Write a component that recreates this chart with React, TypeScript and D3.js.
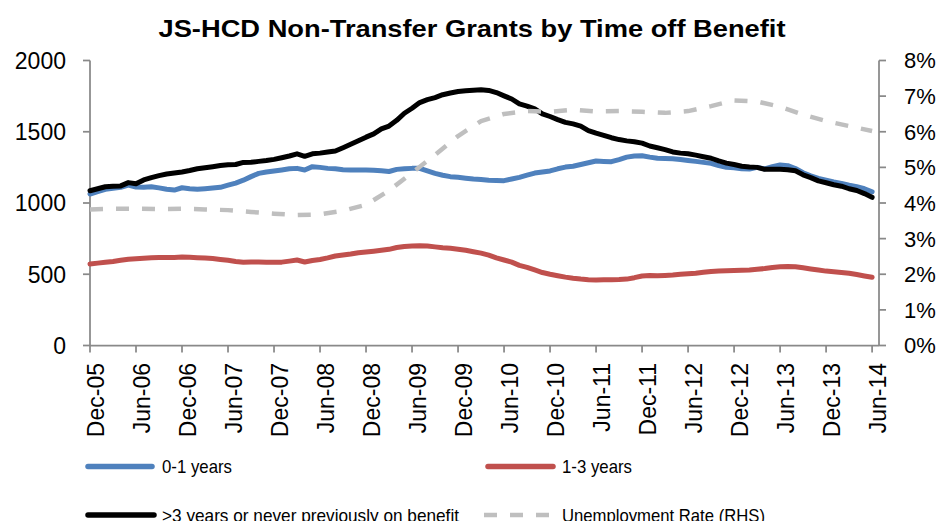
import React from "react";
import * as d3 from "d3";

// Monthly series, Dec-05 (index 0) to Jun-14 (index 102)
const zeroToOne: number[] = [
  1063, 1080, 1096, 1103, 1110, 1126, 1112, 1110, 1114, 1106, 1096, 1091,
  1107, 1100, 1096, 1100, 1105, 1110, 1125, 1140, 1160, 1185, 1208, 1218,
  1225, 1232, 1240, 1243, 1232, 1255, 1250, 1243, 1240, 1234, 1232, 1232,
  1232, 1230, 1226, 1221, 1236, 1240, 1243, 1243, 1225, 1208, 1195, 1185,
  1180, 1174, 1168, 1165, 1160, 1158, 1157, 1168, 1180, 1195, 1210, 1218,
  1225, 1240, 1252, 1258, 1270, 1282, 1295, 1292, 1290, 1305, 1322, 1330,
  1332, 1322, 1314, 1312, 1311, 1305, 1298, 1292, 1285, 1278, 1262, 1250,
  1248, 1240, 1238, 1250, 1239, 1255, 1267, 1262, 1242, 1212, 1190, 1172,
  1160, 1148, 1138, 1125, 1114, 1100, 1079,
];

const oneToThree: number[] = [
  572, 578, 584, 590, 598, 605, 609, 613, 616, 617, 618, 618,
  621, 619, 616, 614, 610, 604, 598, 590, 585, 586, 586, 585,
  584, 585, 592, 600, 586, 597, 604, 615, 628, 635, 642, 651,
  656, 662, 668, 675, 688, 695, 698, 700, 698, 692, 686, 682,
  676, 668, 658, 648, 634, 615, 600, 585, 562, 548, 530, 512,
  500, 490, 480, 472, 466, 462, 460, 461, 462, 463, 466, 476,
  488, 492, 490, 492, 495, 500, 504, 507, 514, 520, 523, 525,
  526, 528, 530, 535, 540, 548, 553, 555, 553, 545, 537, 530,
  522, 518, 513, 507, 498, 488, 479,
];

const overThree: number[] = [
  1086, 1100, 1114, 1117, 1120, 1143, 1135, 1162, 1178, 1192, 1203, 1210,
  1218, 1228, 1240, 1248, 1255, 1263, 1268, 1270, 1285, 1286, 1292, 1298,
  1306, 1318, 1330, 1345, 1328, 1345, 1350, 1358, 1365, 1388, 1412, 1437,
  1462, 1485, 1520, 1540, 1580, 1630, 1665, 1705, 1725, 1740, 1760, 1772,
  1782, 1788, 1792, 1794, 1790, 1775, 1752, 1730, 1695, 1680, 1660, 1625,
  1607, 1585, 1566, 1555, 1540, 1508, 1490, 1475, 1458, 1445, 1436, 1430,
  1420, 1400, 1388, 1375, 1358, 1350, 1345, 1336, 1325, 1314, 1295, 1280,
  1270, 1258, 1252, 1250, 1236, 1237, 1236, 1234, 1226, 1198, 1178, 1155,
  1142, 1128, 1118, 1100, 1088, 1066, 1040,
];

// Quarterly unemployment rate (%), every 3rd month from Dec-05
const unemploymentRate: number[] = [
  3.82, 3.84, 3.84, 3.83, 3.84, 3.82, 3.8, 3.75, 3.7, 3.66, 3.68, 3.78,
  3.95, 4.35, 4.85, 5.35, 5.88, 6.3, 6.5, 6.58, 6.56, 6.62, 6.57, 6.58,
  6.56, 6.53, 6.58, 6.72, 6.88, 6.85, 6.7, 6.48, 6.3, 6.16, 6.02,
];

const xTickLabels: string[] = [
  "Dec-05", "Jun-06", "Dec-06", "Jun-07", "Dec-07", "Jun-08", "Dec-08", "Jun-09", "Dec-09",
  "Jun-10", "Dec-10", "Jun-11", "Dec-11", "Jun-12", "Dec-12", "Jun-13", "Dec-13", "Jun-14",
];
const leftTicks: number[] = [0, 500, 1000, 1500, 2000];
const rightTicks: number[] = [0, 1, 2, 3, 4, 5, 6, 7, 8];

const seriesNames = ["0-1 years", "1-3 years", ">3 years or never previously on benefit", "Unemployment Rate (RHS)"];

const W = 938;
const H = 521;
const FONT = "'Liberation Sans', Arial, sans-serif";
const AXIS = "#898989";

export default function App() {
  const x = d3.scaleLinear().domain([0, 102.9]).range([90, 879]);
  const yL = d3.scaleLinear().domain([0, 2000]).range([345.5, 60.5]);
  const yR = d3.scaleLinear().domain([0, 8]).range([345.5, 60.5]);

  const lineL = d3
    .line<number>()
    .x((_, i) => x(i))
    .y((d) => yL(d));
  const lineR = d3
    .line<number>()
    .x((_, i) => x(i * 3))
    .y((d) => yR(d));

  const plotBottom = yL(0);

  const legendText = (s: string, tx: number, ty: number, len: number) => (
    <text x={tx} y={ty} textLength={len} lengthAdjust="spacingAndGlyphs">
      {s}
    </text>
  );

  return (
    <svg
      width={W}
      height={H}
      viewBox={`0 0 ${W} ${H}`}
      style={{ position: "absolute", left: 0, top: 0, background: "#fff" }}
    >
      <rect x={0} y={0} width={W} height={H} fill="#fff" />
      {/* Title */}
      <text
        x={472}
        y={37}
        textAnchor="middle"
        fontFamily={FONT}
        fontWeight="bold"
        fontSize={24}
        textLength={627}
        lengthAdjust="spacingAndGlyphs"
        fill="#000"
      >
        JS-HCD Non-Transfer Grants by Time off Benefit
      </text>

      {/* Left axis */}
      <line x1={x(0)} x2={x(0)} y1={yL(2000)} y2={plotBottom} stroke={AXIS} strokeWidth={1.75} />
      {leftTicks.map((t) => (
        <g key={"l" + t}>
          <line x1={x(0) - 7} x2={x(0)} y1={yL(t)} y2={yL(t)} stroke={AXIS} strokeWidth={1.75} />
          <text
            x={66}
            y={yL(t)}
            dy="0.36em"
            textAnchor="end"
            fontFamily={FONT}
            fontSize={23}
            fill="#000"
          >
            {t}
          </text>
        </g>
      ))}

      {/* Right axis */}
      <line x1={x(102.9)} x2={x(102.9)} y1={yR(8)} y2={plotBottom} stroke={AXIS} strokeWidth={1.75} />
      {rightTicks.map((t) => (
        <g key={"r" + t}>
          <line x1={x(102.9)} x2={x(102.9) + 7} y1={yR(t)} y2={yR(t)} stroke={AXIS} strokeWidth={1.75} />
          <text x={904} y={yR(t)} dy="0.36em" textAnchor="start" fontFamily={FONT} fontSize={22} fill="#000">
            {t + "%"}
          </text>
        </g>
      ))}

      {/* Bottom axis */}
      <line x1={x(0)} x2={x(102.9)} y1={plotBottom} y2={plotBottom} stroke={AXIS} strokeWidth={1.75} />
      {xTickLabels.map((lab, k) => {
        const tx = x(k * 6);
        return (
          <g key={lab}>
            <line x1={tx} x2={tx} y1={plotBottom} y2={plotBottom + 7} stroke={AXIS} strokeWidth={1.75} />
            <text
              transform={`translate(${tx + 6},363) rotate(-90)`}
              dy="0.36em"
              textAnchor="end"
              fontFamily={FONT}
              fontSize={23}
              fill="#000"
            >
              {lab}
            </text>
          </g>
        );
      })}

      {/* Series */}
      <path d={lineL(zeroToOne) || ""} fill="none" stroke="#4F81BD" strokeWidth={5} strokeLinejoin="round" strokeLinecap="round" />
      <path d={lineL(oneToThree) || ""} fill="none" stroke="#C0504D" strokeWidth={5} strokeLinejoin="round" strokeLinecap="round" />
      <path d={lineL(overThree) || ""} fill="none" stroke="#000000" strokeWidth={5} strokeLinejoin="round" strokeLinecap="round" />
      <path
        d={lineR(unemploymentRate) || ""}
        fill="none"
        stroke="#BFBFBF"
        strokeWidth={4.5}
        strokeDasharray="13 13"
        strokeLinejoin="round"
      />

      {/* Legend */}
      <g fontFamily={FONT} fontSize={19} fill="#000">
        <line x1={88} x2={152} y1={466.5} y2={466.5} stroke="#4F81BD" strokeWidth={5.5} strokeLinecap="round" />
        {legendText(seriesNames[0], 162, 472.5, 70)}
        <line x1={488} x2={553} y1={466.5} y2={466.5} stroke="#C0504D" strokeWidth={5.5} strokeLinecap="round" />
        {legendText(seriesNames[1], 562, 472.5, 70)}
        <line x1={88} x2={154} y1={515} y2={515} stroke="#000" strokeWidth={5.5} strokeLinecap="round" />
        {legendText(seriesNames[2], 162, 521.5, 297)}
        <line x1={484} x2={555} y1={515} y2={515} stroke="#BFBFBF" strokeWidth={4.5} strokeDasharray="13 13" />
        {legendText(seriesNames[3], 562, 521.5, 203)}
      </g>
    </svg>
  );
}
